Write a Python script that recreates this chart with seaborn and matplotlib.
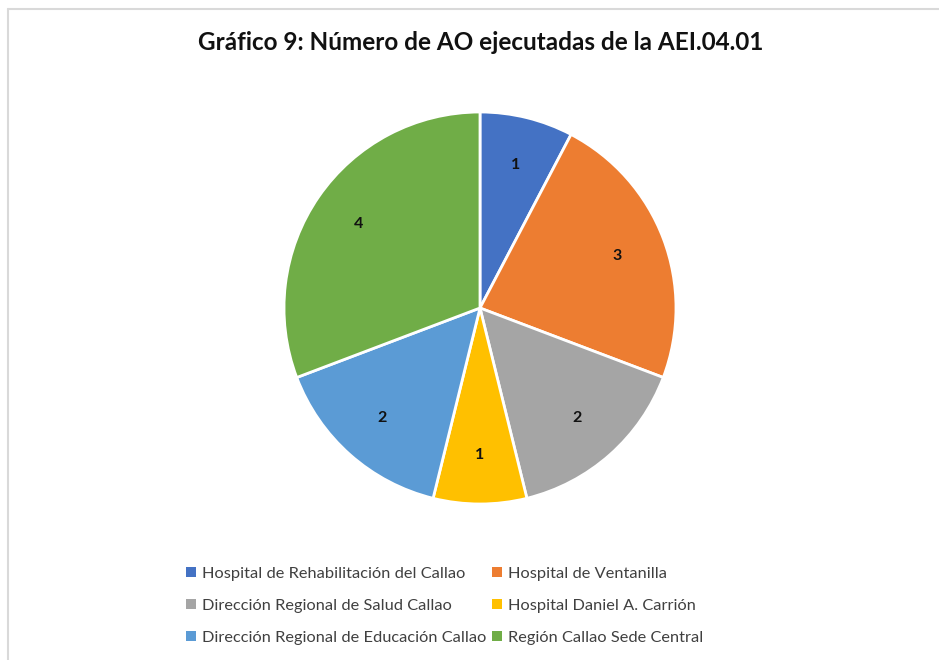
import matplotlib
matplotlib.use("Agg")
import matplotlib.pyplot as plt
from matplotlib.lines import Line2D
from matplotlib.patches import Patch
import seaborn as sns

categories = [
    "Hospital de Rehabilitación del Callao",
    "Hospital de Ventanilla",
    "Dirección Regional de Salud Callao",
    "Hospital Daniel A. Carrión",
    "Dirección Regional de Educación Callao",
    "Región Callao Sede Central",
]
values = [1, 3, 2, 1, 2, 4]
colors = ["#4472C4", "#ED7D31", "#A5A5A5", "#FFC000", "#5B9BD5", "#70AD47"]
title = "Gráfico 9: Número de AO ejecutadas de la AEI.04.01"

sns.set_theme(style="white")
plt.rcParams["font.family"] = ["Lato", "DejaVu Sans"]
palette = sns.color_palette(colors)

W, H = 939, 660
fig = plt.figure(figsize=(W / 100, H / 100), dpi=100)
fig.patch.set_facecolor("white")

cx, cy, r = 480, 308, 196
ax = fig.add_axes([(cx - r) / W, (H - cy - r) / H, 2 * r / W, 2 * r / H])
total = sum(values)
wedges, texts, autotexts = ax.pie(
    values,
    colors=palette,
    startangle=90,
    counterclock=False,
    radius=1.0,
    autopct=lambda p: f"{round(p * total / 100):d}",
    pctdistance=0.75,
    wedgeprops=dict(edgecolor="white", linewidth=2),
    textprops=dict(fontsize=11.5, color="#111111", fontweight="bold"),
)
ax.set_xlim(-1, 1)
ax.set_ylim(-1, 1)
ax.set_aspect("equal")
ax.axis("off")

fig.text(481 / W, 1 - 43 / H, title, ha="center", va="center",
         fontsize=17.5, fontweight="bold", color="#111111")

# legend laid out row by row (matplotlib fills column-first)
order = [0, 2, 4, 1, 3, 5]
handles = [Patch(facecolor=palette[i], edgecolor="none") for i in order]
labels = [categories[i] for i in order]
leg = fig.legend(
    handles, labels, ncol=2,
    loc="center left", bbox_to_anchor=(186 / W, 1 - 606 / H),
    frameon=False, fontsize=11.8, handlelength=0.6, handleheight=0.6,
    handletextpad=0.4, columnspacing=0.3, labelspacing=1.1,
    borderpad=0, borderaxespad=0,
)
for t in leg.get_texts():
    t.set_color("#404040")

# Light chart border (top and left)
fig.add_artist(Line2D([7.5 / W, 1], [1 - 8.5 / H, 1 - 8.5 / H], color="#D9D9D9", lw=1.5, transform=fig.transFigure))
fig.add_artist(Line2D([7.5 / W, 7.5 / W], [0, 1 - 8.5 / H], color="#D9D9D9", lw=1.5, transform=fig.transFigure))

fig.savefig("out.png", dpi=100, facecolor="white")
